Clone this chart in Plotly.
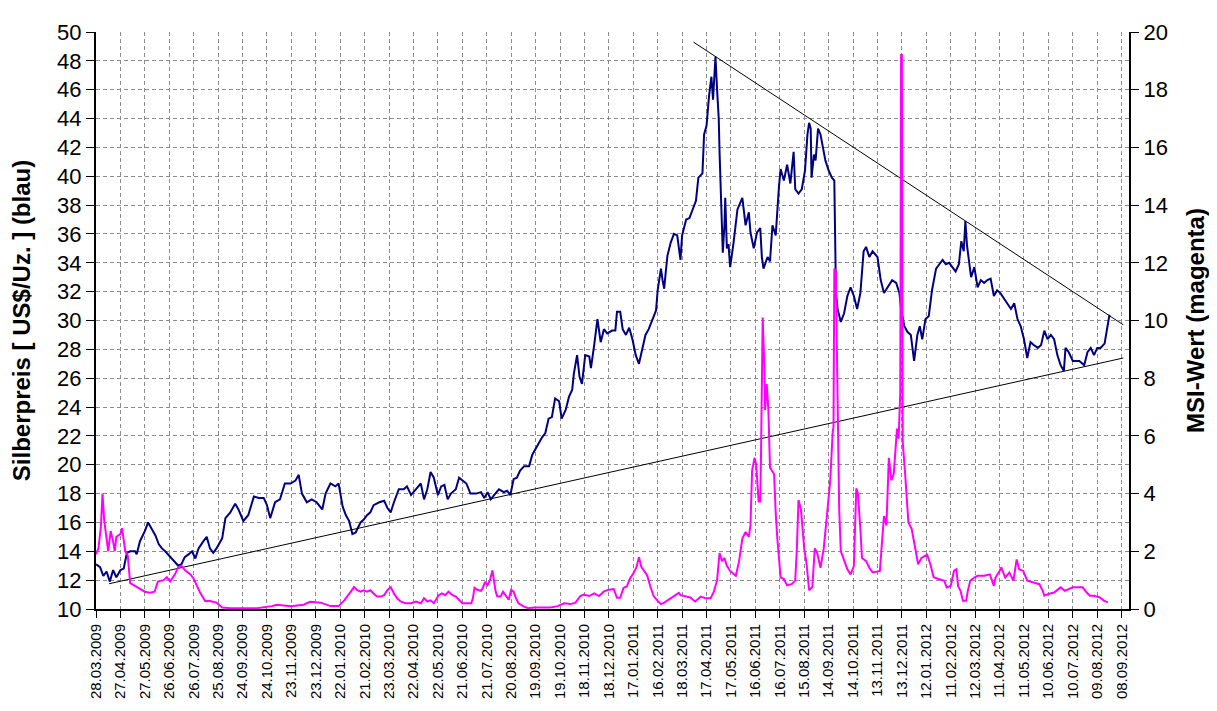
import pandas as pd
import plotly.graph_objects as go

START = "2009-03-28"

# x-axis tick labels (every 30 days)
x_tick_labels = ["28.03.2009", "27.04.2009", "27.05.2009", "26.06.2009", "26.07.2009", "25.08.2009",
                 "24.09.2009", "24.10.2009", "23.11.2009", "23.12.2009", "22.01.2010", "21.02.2010",
                 "23.03.2010", "22.04.2010", "22.05.2010", "21.06.2010", "21.07.2010", "20.08.2010",
                 "19.09.2010", "19.10.2010", "18.11.2010", "18.12.2010", "17.01.2011", "16.02.2011",
                 "18.03.2011", "17.04.2011", "17.05.2011", "16.06.2011", "16.07.2011", "15.08.2011",
                 "14.09.2011", "14.10.2011", "13.11.2011", "13.12.2011", "12.01.2012", "11.02.2012",
                 "12.03.2012", "11.04.2012", "11.05.2012", "10.06.2012", "10.07.2012", "09.08.2012",
                 "08.09.2012"]
x_range_end = "2012-09-17"

# Silver price (blue) - day offset from START and price in US$/oz
silver_day = [0, 5, 9, 13, 17, 21, 25, 30, 34, 38, 42, 48, 50, 54, 60, 64, 68, 73, 77, 81, 85, 91, 97,
              101, 105, 109, 114, 118, 122, 126, 132, 136, 140, 144, 148, 155, 159, 165, 171, 175, 181,
              187, 194, 200, 206, 210, 214, 220, 226, 232, 239, 245, 249, 253, 259, 265, 271, 278, 282,
              288, 294, 298,
              303, 307, 311, 315, 319, 325, 329, 333, 337, 341, 348, 354, 358, 362, 366, 372, 378, 382,
              387, 393, 399, 403, 407, 411, 415, 420, 424, 428, 432, 436, 442, 446, 450, 455, 460, 467,
              473, 477, 481, 485, 489, 495, 501, 505,
              509, 513, 517, 521, 526, 532, 536, 540, 544, 548, 552, 556, 560, 564, 569, 572, 577, 581,
              585, 587, 591, 594, 597, 601, 606, 608, 612, 616, 620, 624, 628, 634, 638, 640, 644, 647,
              651, 655, 659, 663, 667, 671, 675, 679, 684, 688, 690, 694, 696, 698, 700, 702, 706, 710,
              714, 718, 720, 725, 729, 733, 737,
              740, 745, 747, 750, 753, 756, 758, 759, 761, 763, 765, 766, 767, 769, 770, 772, 773, 775,
              777, 779, 783, 788, 792, 794, 798, 802, 804, 808, 812, 816, 818, 820, 825, 828, 831, 835,
              839, 841, 845, 849, 853, 857, 859, 863, 867, 871, 874, 876, 878, 879, 882, 884, 887, 890,
              893, 896, 900, 904, 907, 908, 909, 911, 915, 919, 923, 927, 931, 935, 939, 943, 946, 950,
              954, 960,
              964, 968, 972, 978, 983, 987, 989, 993, 997, 1001, 1005, 1009, 1012, 1015, 1019, 1023,
              1027, 1032, 1036, 1040, 1044, 1048, 1052, 1056, 1060, 1063, 1066, 1068, 1070, 1072, 1075,
              1079, 1083, 1087, 1091, 1095, 1099, 1103, 1107, 1111, 1116, 1120, 1124, 1128, 1132, 1136,
              1140, 1144, 1148, 1152, 1157, 1161, 1165, 1169, 1173, 1177, 1181, 1185, 1189, 1191, 1195,
              1200, 1204, 1208, 1214, 1218, 1222, 1226, 1230, 1234, 1239, 1242, 1244, 1245]
silver_price = [13.1, 12.9, 12.3, 12.6, 11.9, 12.7, 12.2, 12.7, 12.8, 13.9, 14.0, 14.0, 13.8, 14.7, 15.4,
                16.0, 15.6, 15.1, 14.5, 14.2, 14.0, 13.6, 13.2, 13.0, 13.1, 13.6, 13.8, 14.0, 13.5, 14.2,
                14.7, 15.0, 14.2, 13.9, 14.2, 14.9, 16.3, 16.7, 17.3, 16.9, 16.1, 16.5, 17.8, 17.7, 17.7,
                17.2, 16.3, 17.4, 17.6, 18.7, 18.7, 18.9, 19.3, 18.0, 17.4, 17.6, 17.4, 16.9, 18.0, 18.7,
                18.5, 18.7,
                17.1, 16.5, 16.1, 15.2, 15.3, 16.0, 16.2, 16.5, 16.7, 17.2, 17.4, 17.5, 17.0, 16.7, 17.4,
                18.3, 18.3, 18.5, 17.9, 18.3, 18.7, 17.6, 18.3, 19.5, 19.1, 17.9, 18.5, 18.6, 17.6, 18.0,
                18.3, 19.1, 18.9, 18.7, 18.0, 18.0, 18.1, 17.7, 18.1, 17.6, 17.9, 18.3, 18.1, 18.2,
                17.9, 19.0, 19.1, 19.6, 19.9, 19.9, 20.7, 21.1, 21.6, 21.9, 22.2, 23.2, 23.3, 24.6, 24.4,
                23.2, 23.8, 24.7, 25.2, 26.3, 27.6, 26.1, 25.6, 27.6, 27.5, 26.7, 28.3, 30.1, 28.5, 29.4,
                29.1, 29.3, 29.3, 30.6, 30.6, 29.4, 29.0, 29.5, 28.7, 27.6, 27.0, 28.0, 29.0, 29.4, 30.2,
                30.7, 32.1, 33.6, 32.8, 32.2, 33.4, 34.5, 35.4, 36.0, 35.9, 34.2, 35.9, 37.0, 37.1, 37.7,
                38.3,
                39.9, 40.2, 42.9, 43.5, 45.5, 46.9, 45.3, 46.7, 48.3, 46.0, 44.0, 41.7, 39.9, 35.7, 34.7,
                36.6, 38.5, 35.0, 35.3, 33.7, 35.3, 37.7, 38.2, 38.5, 36.6, 37.5, 36.1, 35.0, 36.1, 36.4,
                34.4, 33.6, 34.4, 34.1, 36.6, 35.9, 39.3, 40.5, 39.7, 40.8, 39.5, 41.7, 39.1, 38.8, 39.1,
                40.4, 42.9, 43.7, 43.3, 39.9, 41.5, 41.1, 43.3, 42.9, 42.0, 41.1, 40.4, 39.9, 39.7, 35.9,
                31.9, 30.8, 29.9, 30.5, 31.7, 32.3, 31.7, 30.8, 31.9, 34.8, 35.1, 34.4, 34.8, 34.4,
                32.8, 31.9, 32.3, 32.8, 32.6, 31.9, 30.8, 29.6, 29.2, 29.0, 27.2, 29.0, 29.6, 28.7, 30.1,
                30.3, 32.1, 33.6, 33.9, 34.2, 33.9, 34.0, 33.7, 33.4, 33.9, 35.5, 34.8, 36.9, 35.2, 34.2,
                33.0, 33.7, 32.3, 32.8, 32.6, 32.8, 32.9, 31.7, 32.1, 31.9, 31.5, 31.2, 30.8, 31.2, 30.1,
                29.6, 28.7, 27.4, 28.5, 28.3, 28.1, 28.3, 29.3, 28.7, 29.0, 28.7, 27.6, 26.9, 26.5, 28.1,
                27.8, 27.2, 27.2, 27.2, 26.9, 27.8, 28.1, 27.6, 28.1, 28.1, 28.4, 29.4, 30.3, 30.4]

# MSI value (magenta) - day offset from START and MSI value
msi_day = [0, 3, 6, 8, 10, 12, 15, 18, 21, 23, 25, 30, 32, 36, 39, 42, 48, 54, 60, 66, 72, 76, 83, 87,
           91, 97, 101, 105, 109, 116, 120, 124, 128, 134, 140, 148, 155, 165, 198, 216, 222, 239, 255,
           263, 276, 288, 298,
           305, 309, 313, 317, 321, 325, 329, 333, 337, 341, 345, 350, 354, 358, 362, 366, 370, 374,
           380, 387, 393, 399, 403, 407, 411, 415, 421, 425, 429, 433, 438, 442, 446, 450, 456, 461,
           463, 465, 469, 473, 475, 478, 481, 484, 487, 489, 491, 493, 497, 500, 503, 507, 510, 513,
           516, 519, 525, 531,
           538, 558, 567, 575, 583, 589, 595, 599, 606, 612, 618, 624, 630, 636, 640, 644, 648, 652,
           656, 660, 664, 667, 670, 673, 677, 681, 685, 690, 694, 698, 704, 710, 716,
           718, 724, 730, 736, 743, 749, 755, 759, 763, 766, 769, 772, 775, 779, 786, 790, 794, 798,
           802, 804, 806, 809, 811, 814, 816, 817, 819, 821, 822, 824, 826, 828, 833, 835, 837, 841,
           845, 849, 855, 859, 861, 863, 866, 870, 873, 876, 880, 883, 886, 890, 894, 899, 902, 905,
           906, 907, 909, 910, 911, 913, 915, 919, 923, 927, 931, 934, 936, 939, 941, 946, 950, 954,
           960, 963, 965, 968, 971, 974, 977, 980, 984, 986, 988, 989, 990, 991, 994, 998, 1002, 1006,
           1010, 1014, 1021, 1025, 1029, 1035,
           1042, 1045, 1050, 1054, 1057, 1059, 1062, 1065, 1069, 1071, 1074, 1079, 1083, 1091, 1098,
           1103, 1105, 1110, 1112, 1117, 1122, 1127, 1131, 1134, 1139, 1144, 1151, 1159, 1163, 1165,
           1170, 1177, 1185, 1190, 1200, 1212, 1217, 1221, 1226, 1233, 1238, 1243]
msi_value = [1.9, 2.1, 2.85, 4.0, 3.1, 2.7, 2.0, 2.7, 2.35, 2.0, 2.5, 2.6, 2.8, 2.0, 1.85, 0.9, 0.8,
             0.67, 0.6, 0.56, 0.6, 0.95, 1.0, 1.1, 0.95, 1.2, 1.45, 1.5, 1.35, 1.2, 1.05, 0.8, 0.56,
             0.28, 0.28, 0.22, 0.05, 0.03, 0.03, 0.1, 0.15, 0.1, 0.15, 0.25, 0.22, 0.1, 0.1,
             0.3, 0.43, 0.6, 0.76, 0.65, 0.6, 0.65, 0.6, 0.65, 0.54, 0.43, 0.43, 0.48, 0.65, 0.76, 0.54,
             0.37, 0.26, 0.2, 0.2, 0.26, 0.2, 0.37, 0.26, 0.3, 0.2, 0.48, 0.54, 0.48, 0.6, 0.48, 0.43,
             0.3, 0.2, 0.2, 0.2,
             0.37, 0.74, 0.66, 0.63, 0.72, 0.94, 0.83, 1.0, 1.34, 0.94, 0.6, 0.43, 0.43, 0.6, 0.49,
             0.32, 0.66, 0.6, 0.37, 0.2, 0.09, 0.03,
             0.05, 0.05, 0.1, 0.2, 0.17, 0.22, 0.45, 0.5, 0.45, 0.54, 0.45, 0.61, 0.67, 0.69, 0.39,
             0.39, 0.73, 0.78, 1.06, 1.23, 1.45, 1.79, 1.45, 1.34, 1.17, 0.78, 0.45, 0.28, 0.17, 0.22,
             0.33, 0.45, 0.56,
             0.48, 0.43, 0.4, 0.26, 0.43, 0.37, 0.37, 0.6, 1.0, 1.94, 1.66, 1.77, 1.5, 1.32, 1.15, 1.66,
             2.44, 2.67, 2.5, 2.9, 4.8, 5.24, 5.0, 3.73, 3.73, 5.46, 10.1, 8.4, 6.9, 7.8, 6.9, 4.9,
             4.68, 3.34, 2.44, 1.1, 1.04, 0.82, 0.87, 0.99, 2.1, 3.78, 3.45, 2.1, 1.55, 0.65, 0.76, 2.1,
             1.94, 1.43, 2.1, 3.56, 4.46, 6.14, 6.3, 11.8, 11.7, 9.3, 6.5, 3.45, 2.0, 1.66, 1.38, 1.2,
             1.49, 4.18, 4.0, 2.78, 1.77, 1.66, 1.43, 1.27, 1.32, 1.32, 2.1, 3.22, 2.89, 5.24, 4.46,
             4.68, 6.25, 5.9, 7.5, 19.2, 19.2, 5.8, 4.68, 3.0, 2.78, 2.1, 1.55, 1.77, 1.88, 1.55, 1.1,
             1.04,
             0.98, 0.75, 0.8, 1.32, 1.38, 0.8, 0.63, 0.29, 0.29, 0.63, 0.98, 1.09, 1.15, 1.15, 1.2, 0.8,
             1.09, 1.32, 1.44, 1.09, 1.26, 0.98, 1.72, 1.38, 1.32, 0.98, 0.92, 0.86, 0.63, 0.46, 0.52,
             0.57, 0.75, 0.63, 0.75, 0.75, 0.57, 0.46, 0.46, 0.4, 0.29, 0.23]

# Trend lines (left axis units)
trend_low_day = [16, 1262]
trend_low_value = [11.75, 27.4]
trend_high_day = [734, 1262]
trend_high_value = [49.3, 29.7]

start = pd.Timestamp(START)


def to_dates(days):
    return [start + pd.Timedelta(days=d) for d in days]


tick_dates = pd.to_datetime(x_tick_labels, format="%d.%m.%Y")

FONT = "Arial, 'Liberation Sans', sans-serif"
GRID = "#8c8c8c"

fig = go.Figure()
fig.add_trace(go.Scatter(x=to_dates(silver_day), y=silver_price, mode="lines",
                         line=dict(color="#000080", width=2), yaxis="y", showlegend=False,
                         name="Silberpreis"))
fig.add_trace(go.Scatter(x=to_dates(msi_day), y=msi_value, mode="lines",
                         line=dict(color="#FF00FF", width=2), yaxis="y2", showlegend=False,
                         name="MSI-Wert"))
fig.add_trace(go.Scatter(x=to_dates(trend_low_day), y=trend_low_value, mode="lines",
                         line=dict(color="black", width=1), yaxis="y", showlegend=False))
fig.add_trace(go.Scatter(x=to_dates(trend_high_day), y=trend_high_value, mode="lines",
                         line=dict(color="black", width=1), yaxis="y", showlegend=False))

# the page body has an 8px default margin, so the figure is sized to fit the window
fig.update_layout(
    width=1209, height=703,
    margin=dict(l=88, r=88, t=12, b=94),
    paper_bgcolor="white", plot_bgcolor="white",
    font=dict(family=FONT, color="black"),
    xaxis=dict(
        type="date", range=[start, pd.Timestamp(x_range_end)],
        tickmode="array", tickvals=list(tick_dates), ticktext=x_tick_labels,
        tickangle=-90, tickfont=dict(size=15, family=FONT, color="black"),
        showgrid=True, gridcolor=GRID, griddash="4px,3px", gridwidth=1,
        showline=True, linecolor="black", linewidth=2,
        ticks="outside", ticklen=7, tickcolor="black", tickwidth=1,
        zeroline=False,
    ),
    yaxis=dict(
        range=[10, 50], tick0=10, dtick=2,
        tickfont=dict(size=22, family=FONT, color="black"),
        ticklabeloverflow="allow",
        showgrid=True, gridcolor=GRID, griddash="4px,3px", gridwidth=1,
        showline=True, linecolor="black", linewidth=2,
        ticks="outside", ticklen=8, tickcolor="black", tickwidth=1,
        zeroline=False,
        title=dict(text="Silberpreis [ US$/Uz. ] (blau)", standoff=20,
                   font=dict(size=24, family=FONT, color="black", weight="bold")),
    ),
    yaxis2=dict(
        overlaying="y", side="right",
        range=[0, 20], tick0=0, dtick=2,
        tickfont=dict(size=22, family=FONT, color="black"),
        ticklabeloverflow="allow",
        showgrid=False,
        showline=True, linecolor="black", linewidth=2,
        ticks="outside", ticklen=8, tickcolor="black", tickwidth=1,
        zeroline=False,
        title=dict(text="MSI-Wert (magenta)", standoff=20,
                   font=dict(size=24, family=FONT, color="black", weight="bold")),
    ),
)

fig.write_html("out.html")
